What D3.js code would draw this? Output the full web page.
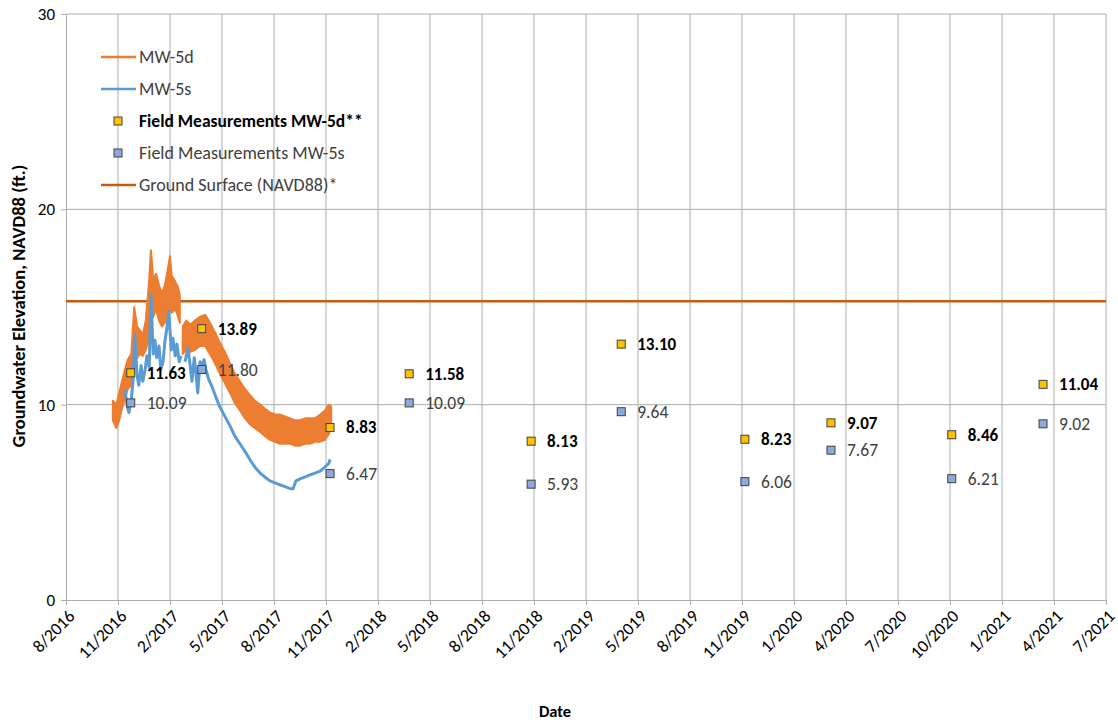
<!DOCTYPE html>
<html>
<head>
<meta charset="utf-8">
<script src="https://cdn.jsdelivr.net/npm/d3@7"></script>
<style>
  body { margin: 0; background: #fff; }
  text { font-family: Carlito, Lato, "Open Sans", sans-serif; }
</style>
</head>
<body>
<svg id="chart" width="1118" height="722"></svg>
<script>
// ---- data ----
// x axis: Excel date axis, one tick every 90 days
const tickDates = ["2016-08-18", "2016-11-16", "2017-02-14", "2017-05-15", "2017-08-13", "2017-11-11",
  "2018-02-09", "2018-05-10", "2018-08-08", "2018-11-06", "2019-02-04", "2019-05-05", "2019-08-03",
  "2019-11-01", "2020-01-30", "2020-04-29", "2020-07-28", "2020-10-26", "2021-01-24", "2021-04-24", "2021-07-23"];
const yTicks = [0, 10, 20, 30];

// MW-5d transducer record (daily low / high envelope), null = data gap
const mw5dDates = ["2016-11-07", "2016-11-13", "2016-11-18", "2016-11-23", "2016-11-28", "2016-12-03", "2016-12-09",
  "2016-12-14", "2016-12-19", "2016-12-24", "2016-12-29", "2017-01-03", "2017-01-09", "2017-01-12", "2017-01-16",
  "2017-01-21", "2017-01-26", "2017-01-31", "2017-02-05", "2017-02-10", "2017-02-14", "2017-02-17", "2017-02-23",
  "2017-02-28", "2017-03-03", "2017-03-05",
  "2017-03-08", "2017-03-14", "2017-03-21", "2017-03-29", "2017-04-07", "2017-04-16", "2017-04-24", "2017-05-03",
  "2017-05-11", "2017-05-20", "2017-05-29", "2017-06-06", "2017-06-15", "2017-06-24", "2017-07-02", "2017-07-11",
  "2017-07-20", "2017-07-28", "2017-08-06", "2017-08-15", "2017-08-23", "2017-09-01", "2017-09-10", "2017-09-18",
  "2017-09-27", "2017-10-06", "2017-10-14", "2017-10-23", "2017-11-01", "2017-11-09", "2017-11-16", "2017-11-20"];
const mw5dLow = [9.2, 8.8, 9.2, 9.8, 10.3, 10.8, 11.0, 11.9, 12.4, 12.6, 12.5, 12.8, 13.4, 14.4, 14.5,
  14.9, 14.3, 14.0, 14.2, 14.5, 15.0, 14.7, 14.9, 14.5, 14.2, null,
  12.6, 12.8, 12.7, 12.8, 13.0, 13.0, 12.6, 12.1, 11.6, 11.1, 10.6, 10.1, 9.7, 9.3, 9.0, 8.8,
  8.6, 8.4, 8.2, 8.1, 8.0, 8.0, 8.0, 7.9, 7.9, 8.0, 8.0, 8.1, 8.1, 8.2, 8.5, 8.8];
const mw5dHigh = [10.2, 10.0, 10.6, 11.2, 11.8, 12.3, 12.6, 15.0, 14.0, 13.8, 13.6, 14.3, 16.4, 17.9, 16.4,
  16.7, 16.1, 15.7, 16.1, 16.9, 17.6, 16.6, 16.3, 16.0, 15.6, null,
  14.0, 14.3, 14.1, 14.3, 14.5, 14.6, 14.2, 13.7, 13.2, 12.7, 12.1, 11.6, 11.2, 10.8, 10.5, 10.2,
  10.0, 9.8, 9.6, 9.5, 9.5, 9.4, 9.3, 9.2, 9.2, 9.3, 9.3, 9.3, 9.5, 9.7, 10.0, 9.9];

// MW-5s transducer record
const mw5sDates = ["2016-11-28", "2016-12-02", "2016-12-05", "2016-12-09", "2016-12-12", "2016-12-15", "2016-12-19",
  "2016-12-22", "2016-12-26", "2016-12-29", "2017-01-02", "2017-01-05", "2017-01-09", "2017-01-12", "2017-01-16",
  "2017-01-19", "2017-01-22", "2017-01-26", "2017-01-29", "2017-02-02", "2017-02-05", "2017-02-09", "2017-02-12",
  "2017-02-16", "2017-02-19", "2017-02-23", "2017-02-26", "2017-03-02", "2017-03-05", "2017-03-08",
  "2017-03-12", "2017-03-17", "2017-03-21", "2017-03-24", "2017-03-28", "2017-03-31", "2017-04-03", "2017-04-07",
  "2017-04-10", "2017-04-14", "2017-04-17", "2017-04-22", "2017-04-28", "2017-05-03", "2017-05-11", "2017-05-20",
  "2017-05-29", "2017-06-06", "2017-06-15", "2017-06-24", "2017-07-02", "2017-07-11", "2017-07-20", "2017-07-28",
  "2017-08-06", "2017-08-15", "2017-08-23", "2017-09-01", "2017-09-10", "2017-09-15", "2017-09-20", "2017-09-27",
  "2017-10-06", "2017-10-14", "2017-10-23", "2017-11-01", "2017-11-09", "2017-11-16", "2017-11-18"];
const mw5sValues = [10.8, 9.9, 9.6, 10.3, 11.2, 13.6, 11.5, 11.0, 12.0, 11.2, 11.8, 12.5, 11.9, 15.6, 12.6,
  13.3, 12.4, 13.0, 11.8, 12.2, 13.2, 14.0, 14.8, 12.8, 13.4, 12.5, 13.1, 12.2, 12.5, null,
  12.2, 12.9, 12.0, 11.2, 12.4, 11.6, 10.6, 12.2, 12.0, 12.3, 11.8, 11.3, 10.9, 10.5, 9.9, 9.4,
  8.9, 8.4, 8.0, 7.6, 7.2, 6.8, 6.5, 6.3, 6.1, 6.0, 5.9, 5.8, 5.7, 5.7, 6.1, 6.2,
  6.3, 6.4, 6.5, 6.6, 6.8, 7.0, 7.2];

// field measurements
const fieldDates = ["2016-12-08", "2017-04-10", "2017-11-18", "2018-04-04", "2018-11-01", "2019-04-06",
  "2019-11-06", "2020-04-03", "2020-10-29", "2021-04-05"];
const field5d = [11.63, 13.89, 8.83, 11.58, 8.13, 13.10, 8.23, 9.07, 8.46, 11.04];
const field5s = [10.09, 11.80, 6.47, 10.09, 5.93, 9.64, 6.06, 7.67, 6.21, 9.02];

const groundSurface = 15.3;

// ---- chart ----
const parse = d3.timeParse("%Y-%m-%d");
const svg = d3.select("#chart");
const gridColor = "#acacac";

const x = d3.scaleTime()
  .domain([parse(tickDates[0]), parse(tickDates[tickDates.length - 1])])
  .range([66, 1106]);
const y = d3.scaleLinear().domain([0, 30]).range([600, 14]);

// gridlines
svg.append("g")
  .selectAll("line")
  .data(tickDates.slice(1))
  .enter().append("line")
  .attr("x1", d => x(parse(d))).attr("x2", d => x(parse(d)))
  .attr("y1", y(30)).attr("y2", y(0))
  .attr("stroke", gridColor).attr("stroke-width", 1);
svg.append("g")
  .selectAll("line")
  .data(yTicks.slice(1))
  .enter().append("line")
  .attr("x1", x.range()[0]).attr("x2", x.range()[1])
  .attr("y1", d => y(d)).attr("y2", d => y(d))
  .attr("stroke", gridColor).attr("stroke-width", 1);

// axes
const xAxis = svg.append("g")
  .attr("transform", `translate(0,${y(0)})`)
  .call(d3.axisBottom(x)
    .tickValues(tickDates.map(parse))
    .tickFormat(d3.timeFormat("%-m/%Y"))
    .tickSize(5).tickSizeOuter(0));
xAxis.select(".domain").attr("stroke", gridColor);
xAxis.selectAll(".tick line").attr("stroke", gridColor);
xAxis.selectAll(".tick text")
  .attr("font-size", 17.5).attr("fill", "#000")
  .attr("text-anchor", "end")
  .attr("dy", "0.35em")
  .attr("transform", "translate(5,13) rotate(-45)")
  .attr("x", 0).attr("y", 0);

const yAxis = svg.append("g")
  .attr("transform", `translate(${x.range()[0]},0)`)
  .call(d3.axisLeft(y).tickValues(yTicks).tickSize(5).tickSizeOuter(0).tickPadding(6));
yAxis.select(".domain").attr("stroke", gridColor);
yAxis.selectAll(".tick line").attr("stroke", gridColor);
yAxis.selectAll(".tick text").attr("font-size", 17).attr("fill", "#000");

// axis titles
svg.append("text")
  .attr("x", 555).attr("y", 717)
  .attr("text-anchor", "middle")
  .attr("font-size", 16.5).attr("font-weight", "bold")
  .text("Date");
svg.append("text")
  .attr("transform", "translate(25,306) rotate(-90)")
  .attr("text-anchor", "middle")
  .attr("font-size", 18.5).attr("font-weight", "bold")
  .text("Groundwater Elevation, NAVD88 (ft.)");

// ground surface
svg.append("line")
  .attr("x1", x.range()[0]).attr("x2", x.range()[1])
  .attr("y1", y(groundSurface)).attr("y2", y(groundSurface))
  .attr("stroke", "#C55A11").attr("stroke-width", 2.5);

// MW-5d band
const band = mw5dDates.map((d, i) => ({ date: parse(d), lo: mw5dLow[i], hi: mw5dHigh[i] }));
svg.append("path")
  .datum(band)
  .attr("fill", "#ED7D31")
  .attr("stroke", "#ED7D31")
  .attr("stroke-width", 2)
  .attr("stroke-linejoin", "round")
  .attr("d", d3.area()
    .defined(d => d.lo !== null)
    .x(d => x(d.date))
    .y0(d => y(d.lo))
    .y1(d => y(d.hi)));

// MW-5s line
const shallow = mw5sDates.map((d, i) => ({ date: parse(d), v: mw5sValues[i] }));
svg.append("path")
  .datum(shallow)
  .attr("fill", "none")
  .attr("stroke", "#5B9BD5")
  .attr("stroke-width", 3)
  .attr("stroke-linejoin", "round")
  .attr("d", d3.line()
    .defined(d => d.v !== null)
    .x(d => x(d.date))
    .y(d => y(d.v)));

// field measurements
const field = fieldDates.map((d, i) => ({ date: parse(d), d5: field5d[i], s5: field5s[i] }));
const ms = 8;
function markers(key, fill) {
  svg.append("g").selectAll("rect")
    .data(field)
    .enter().append("rect")
    .attr("x", d => x(d.date) - ms / 2)
    .attr("y", d => y(d[key]) - ms / 2)
    .attr("width", ms).attr("height", ms)
    .attr("fill", fill)
    .attr("stroke", "#404040").attr("stroke-width", 1);
}
markers("s5", "#8EA9DB");
markers("d5", "#FFC000");

svg.append("g").selectAll("text")
  .data(field)
  .enter().append("text")
  .attr("x", d => x(d.date) + 16)
  .attr("y", d => y(d.d5))
  .attr("dy", "0.35em")
  .attr("font-size", 17).attr("font-weight", "bold").attr("fill", "#000")
  .text(d => d.d5.toFixed(2));
svg.append("g").selectAll("text")
  .data(field)
  .enter().append("text")
  .attr("x", d => x(d.date) + 16)
  .attr("y", d => y(d.s5))
  .attr("dy", "0.35em")
  .attr("font-size", 17.5).attr("fill", "#404040")
  .text(d => d.s5.toFixed(2));

// legend
const legendItems = [
  { label: "MW-5d", type: "line", color: "#ED7D31" },
  { label: "MW-5s", type: "line", color: "#5B9BD5" },
  { label: "Field Measurements MW-5d**", type: "marker", color: "#FFC000", bold: true },
  { label: "Field Measurements MW-5s", type: "marker", color: "#8EA9DB" },
  { label: "Ground Surface (NAVD88)*", type: "line", color: "#C55A11" }
];
const legend = svg.append("g").attr("transform", "translate(100,57)");
const li = legend.selectAll("g")
  .data(legendItems)
  .enter().append("g")
  .attr("transform", (d, i) => `translate(0,${i * 32})`);
li.filter(d => d.type === "line").append("line")
  .attr("x1", 1).attr("x2", 36).attr("y1", 0).attr("y2", 0)
  .attr("stroke", d => d.color).attr("stroke-width", 2.5);
li.filter(d => d.type === "marker").append("rect")
  .attr("x", 14).attr("y", -4).attr("width", ms).attr("height", ms)
  .attr("fill", d => d.color).attr("stroke", "#404040");
li.append("text")
  .attr("x", 39).attr("y", 0).attr("dy", "0.35em")
  .attr("font-size", d => d.bold ? 17.5 : 18)
  .attr("font-weight", d => d.bold ? "bold" : "normal")
  .attr("fill", d => d.bold ? "#000" : "#404040")
  .text(d => d.label);
</script>
</body>
</html>
